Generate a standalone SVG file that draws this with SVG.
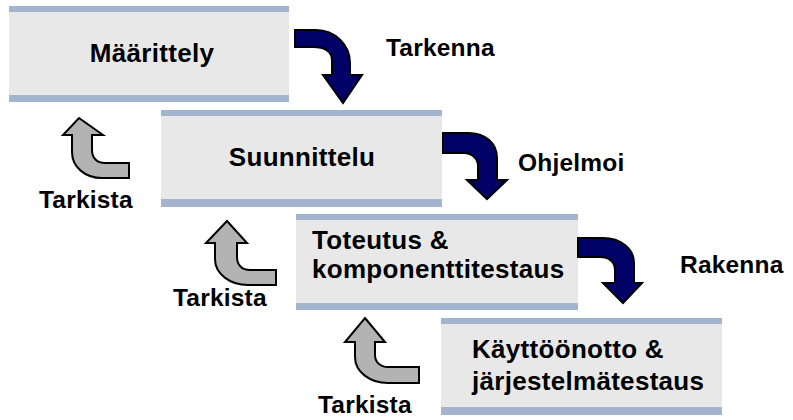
<svg xmlns="http://www.w3.org/2000/svg" width="793" height="420" viewBox="0 0 793 420">
  <style>
    .band { fill: #a3b4cf; }
    .face { fill: #e8e8e8; }
    .txt { font-family: "Liberation Sans", Arial, sans-serif; font-weight: bold; fill: #000; }
    .box-txt { font-size: 26px; letter-spacing: 0.3px; }
    .lbl { font-size: 24.5px; letter-spacing: 0.2px; }
    .fwd { fill: #000066; stroke: #000; stroke-width: 2; stroke-linejoin: miter; }
    .back { fill: #b3b3b3; stroke: #000; stroke-width: 2; stroke-linejoin: miter; }
  </style>

  <rect width="793" height="420" fill="#ffffff"/>

  <!-- Phase boxes -->
  <g id="maarittely">
    <rect class="band" x="9" y="6" width="280" height="96"/>
    <rect class="face" x="9" y="12" width="280" height="83"/>
    <text class="txt box-txt" x="152" y="62" text-anchor="middle">Määrittely</text>
  </g>

  <g id="suunnittelu">
    <rect class="band" x="161" y="110" width="281" height="97"/>
    <rect class="face" x="161" y="116" width="281" height="83"/>
    <text class="txt box-txt" x="302" y="166" text-anchor="middle">Suunnittelu</text>
  </g>

  <g id="toteutus">
    <rect class="band" x="296" y="214" width="282" height="96"/>
    <rect class="face" x="296" y="220" width="282" height="83"/>
    <text class="txt box-txt" x="312" y="249">Toteutus &amp;</text>
    <text class="txt box-txt" x="312" y="278">komponenttitestaus</text>
  </g>

  <g id="kayttoonotto">
    <rect class="band" x="441" y="318" width="281" height="97"/>
    <rect class="face" x="441" y="324" width="281" height="83"/>
    <text class="txt box-txt" x="472" y="358">Käyttöönotto &amp;</text>
    <text class="txt box-txt" x="472" y="390">järjestelmätestaus</text>
  </g>

  <!-- Connectors: forward (navy) and review (grey) arrows -->
  <g id="connectors">
    <path class="fwd" d="M295,30 H316 C335,30 350,45 350,63 V75 H362 L343,103 L323,75 H332 V60 C332,52 325,47 313,47 H295 Z"/>
    <path class="fwd" d="M443,133 H468 C485,133 497,143 497,158 V180 H507 L487,199 L467,180 H478 V166 C478,159 472,153 464,153 H443 Z"/>
    <path class="fwd" d="M578,238 H603 C621,238 634,249 634,263 V283 H642 L623,303 L603,283 H615 V270 C615,262 609,257 600,257 H578 Z"/>

    <path class="back" d="M79,118 L103,135 H92 V150 C92,158 97,163 105,163 H129 V178 H102 C85,178 72,167 72,152 V135 H63 Z"/>
    <path class="back" d="M227,221 L247,243 H237 V257 C237,265 242,270 250,270 H276 V285 H248 C230,285 215,274 215,259 V243 H206 Z"/>
    <path class="back" d="M365,318 L385,342 H375 V355 C375,362 380,367 388,367 H419 V383 H388 C370,383 355,372 355,357 V342 H345 Z"/>

    <text class="txt lbl" x="386" y="56">Tarkenna</text>
    <text class="txt lbl" x="518" y="171">Ohjelmoi</text>
    <text class="txt lbl" x="680" y="273">Rakenna</text>
    <text class="txt lbl" x="39" y="208">Tarkista</text>
    <text class="txt lbl" x="173" y="306">Tarkista</text>
    <text class="txt lbl" x="318" y="413">Tarkista</text>
  </g>
</svg>
